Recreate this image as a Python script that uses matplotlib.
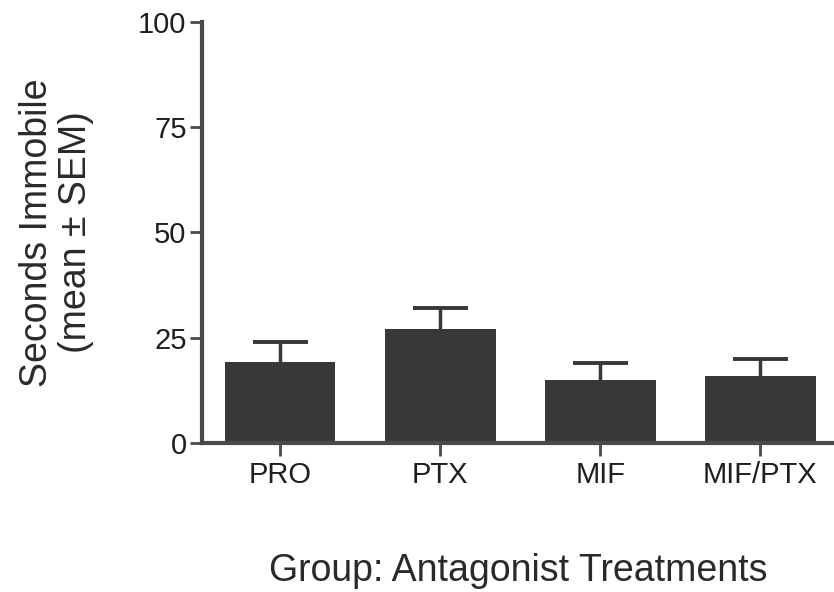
import numpy as np
import matplotlib.pyplot as plt

plt.rcParams['font.family'] = ['Liberation Sans', 'DejaVu Sans']

groups = ['PRO', 'PTX', 'MIF', 'MIF/PTX']
means = [19.2, 27.1, 15.0, 15.9]
sem = [4.8, 5.0, 4.0, 4.1]
yticks = [0, 25, 50, 75, 100]

ink = '#383838'
fig = plt.figure(figsize=(8.34, 5.92), dpi=100)
ax = fig.add_axes([0.242, 0.252, 0.758, 0.711])

x = np.arange(len(groups))
top = np.array(means) + np.array(sem)
ax.bar(x, means, width=0.69, color=ink, zorder=2)
# upper error bars only
ax.vlines(x, means, top, color=ink, linewidth=2.5, zorder=1)
ax.hlines(top, x - 0.172, x + 0.172, color=ink, linewidth=2.8, zorder=1)

ax.set_xlim(-0.49, 3.46)
ax.set_ylim(0, 100)
ax.set_yticks(yticks)
ax.set_xticks(x)
ax.set_xticklabels(groups)

for s in ['top', 'right']:
    ax.spines[s].set_visible(False)
for s in ['left', 'bottom']:
    ax.spines[s].set_linewidth(3)
    ax.spines[s].set_color('#4a4a4a')

ax.tick_params(axis='y', length=9, width=2, color='#4a4a4a', pad=2,
               labelsize=21, labelcolor='#1e1e1e')
ax.tick_params(axis='x', length=9, width=2, color='#4a4a4a', pad=4,
               labelsize=21, labelcolor='#1e1e1e')

ax.set_ylabel('Seconds Immobile\n(mean \u00b1 SEM)', fontsize=27,
              color='#2a2a2a', linespacing=1.1, labelpad=32)
ax.set_xlabel('Group: Antagonist Treatments', fontsize=27,
              color='#2a2a2a', labelpad=46)

fig.savefig('out.png', dpi=100)
